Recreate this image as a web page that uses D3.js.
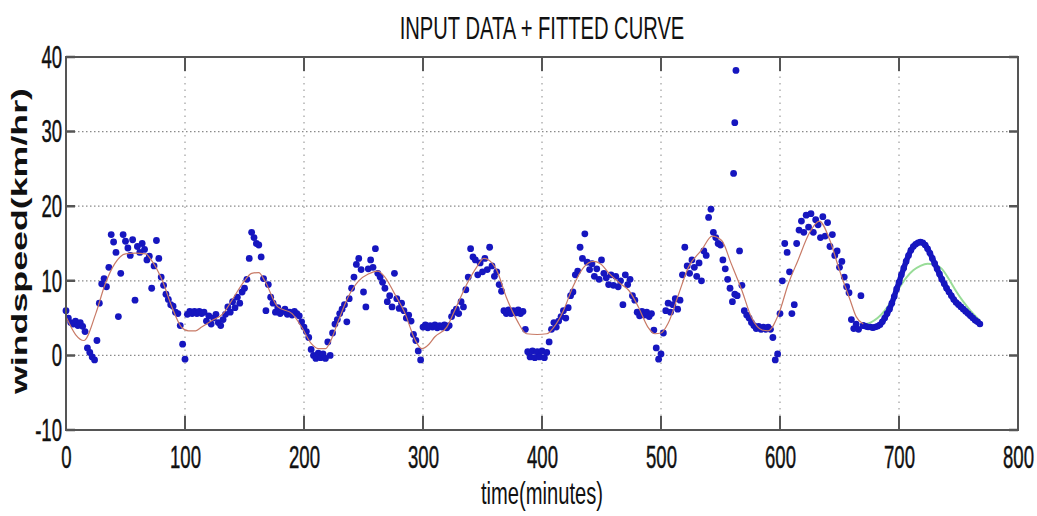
<!DOCTYPE html>
<html>
<head>
<meta charset="utf-8">
<script src="https://cdn.jsdelivr.net/npm/d3@7"></script>
<style>
  html, body { margin: 0; padding: 0; background: #ffffff; }
  svg { display: block; font-family: "Liberation Sans", Arial, sans-serif; }
</style>
</head>
<body>
<svg id="chart" width="1037" height="516"></svg>
<script>
// ---- axis ticks ----
const xTickValues = [0, 100, 200, 300, 400, 500, 600, 700, 800];
const yTickValues = [-10, 0, 10, 20, 30, 40];

// ---- measured wind speed, one reading every 2 minutes (0 .. 670 min) ----
const speedMinutes = d3.range(0, 671, 2);
const windSpeed = [
  6.0, 5.0, 4.4, 4.2, 4.6, 4.0, 4.4, 3.9, 3.2, 1.0,
  0.4, -0.2, -0.6, 2.0, 7.0, 9.6, 10.3, 9.2, 11.8, 16.2,
  15.2, 13.8, 5.2, 11.0, 16.2, 15.3, 14.4, 13.4, 15.5, 7.4,
  14.6, 13.8, 15.0, 14.2, 12.8, 13.3, 9.0, 12.0, 15.4, 13.0,
  10.5, 9.4, 8.2, 7.5, 6.8, 6.6, 5.8, 5.6, 4.0, 1.5,
  -0.5, 5.5, 5.9, 5.6, 5.9, 5.6, 5.9, 5.6, 5.8, 4.6,
  5.3, 4.2, 5.0, 5.5, 4.4, 4.0, 4.8, 5.5, 6.5, 5.8,
  7.2, 6.4, 7.8, 7.0, 8.5, 9.0, 10.2, 13.0, 16.5, 15.8,
  15.0, 14.8, 13.2, 10.3, 6.0, 9.5, 7.8, 7.0, 5.8, 6.4,
  5.6, 5.9, 6.2, 5.5, 5.8, 5.4, 5.9, 5.6, 5.3, 4.5,
  3.8, 3.2, 2.4, 0.8, 0.0, -0.4, 0.3, -0.3, 0.2, -0.4,
  1.8, 0.0, 3.0, 4.2, 4.8, 5.6, 6.2, 6.8, 4.5, 7.6,
  9.0, 10.5, 12.2, 13.0, 11.5, 8.5, 6.5, 11.6, 12.8, 11.8,
  14.3, 11.0, 10.5, 9.8, 9.0, 7.2, 8.0, 6.5, 11.0, 7.6,
  6.3, 7.0, 6.0, 5.0, 5.4, 4.6, 2.8, 2.0, 0.6, -0.6,
  3.8, 4.1, 3.7, 4.0, 3.8, 4.1, 3.7, 4.0, 3.8, 4.1,
  3.7, 4.0, 5.2, 5.8, 6.2, 5.6, 7.2, 6.5, 8.8, 10.5,
  14.3, 13.2, 12.8, 10.8, 12.4, 11.2, 13.0, 11.5, 14.5, 12.0,
  10.6, 11.2, 9.5, 8.6, 6.0, 5.6, 6.1, 5.6, 6.0, 5.7,
  6.1, 5.6, 5.9, 3.5, 0.5, -0.2, 0.6, -0.3, 0.5, -0.2,
  0.6, -0.3, 0.4, 1.8, 3.5, 4.4, 3.8, 4.6, 5.2, 6.0,
  5.0, 6.4, 8.0, 8.5, 10.8, 11.3, 14.5, 13.0, 16.3, 12.5,
  11.5, 12.3, 10.6, 11.6, 10.2, 12.8, 11.0, 10.4, 9.5, 10.8,
  9.4, 10.6, 9.2, 10.0, 6.8, 10.8, 9.5, 10.2, 8.0, 7.4,
  5.8, 5.3, 5.9, 5.4, 5.8, 5.2, 5.6, 3.4, 1.0, -0.5,
  0.2, 3.0, 6.0, 7.0, 5.8, 6.8, 7.6, 6.2, 7.4, 10.8,
  14.5, 12.0, 11.0, 12.8, 11.8, 10.6, 12.4, 10.0, 14.0, 13.4,
  18.5, 19.6, 16.5, 15.8, 15.0, 14.8, 12.8, 11.6, 10.2, 9.0,
  7.2, 8.2, 8.0, 14.0, 9.4, 6.0, 5.4, 5.0, 4.4, 4.0,
  3.6, 3.9, 3.5, 3.8, 3.5, 3.8, 3.5, 2.4, -0.6, 0.2,
  5.6, 10.0, 15.0, 13.8, 11.2, 5.6, 6.8, 15.0, 16.8, 18.0,
  16.5, 18.8, 17.2, 19.0, 16.5, 18.2, 17.5, 15.8, 18.6, 16.0,
  17.8, 14.6, 16.2, 13.4, 14.0, 11.8, 12.6, 10.5, 9.2, 8.4,
  4.8, 3.6, 4.2, 3.5, 8.0, 4.0
];

// isolated gust readings
const gustMinutes = [561, 562, 563];
const gustSpeed = [24.4, 31.2, 38.2];

// ---- fitted curve over the measured period ----
const fitMinutes = [0, 8, 15, 25, 33, 41, 50, 58, 67, 72, 81, 89, 97, 103, 109, 114, 123, 132, 141, 150,
  156, 162, 167, 178, 190, 198, 206, 212, 218, 222, 229, 237, 246, 254, 262, 268, 276, 285, 293, 299,
  305, 310, 320, 328, 337, 345, 351, 356, 362, 370, 379, 387, 396, 404, 410, 418, 426, 435, 443, 449,
  457, 466, 473, 481, 489, 495, 500, 506, 515, 523, 534, 543, 551, 559, 568, 576, 585, 590, 599, 607,
  615, 625, 633, 642, 650, 659, 664, 670];
const fitSpeed = [5.2, 2.8, 2.0, 5.6, 9.6, 12.3, 13.6, 13.7, 13.6, 12.7, 10.0, 6.5, 3.8, 3.3, 3.3, 3.8, 4.7, 5.6, 7.8, 10.0,
  11.0, 11.1, 10.0, 6.5, 5.6, 3.8, 1.6, 0.9, 0.9, 1.8, 4.7, 7.8, 10.0, 10.9, 11.3, 10.5, 8.3, 5.6, 2.2, 0.9,
  1.5, 2.5, 3.8, 6.5, 9.6, 11.8, 13.0, 12.7, 11.4, 7.8, 4.7, 2.9, 2.8, 2.9, 3.8, 6.0, 9.2, 11.8, 12.6, 12.3,
  10.9, 9.6, 8.7, 6.5, 3.8, 2.9, 3.0, 4.3, 8.3, 11.8, 14.1, 16.0, 15.4, 12.3, 8.7, 5.1, 3.4, 3.3, 5.6, 9.6,
  12.7, 16.5, 18.0, 15.4, 11.4, 7.4, 5.2, 4.2];

// ---- predicted wind speed (670 .. 768 min) ----
const forecastMinutes = d3.range(670, 769, 2);
const forecastSpeed = [
  4.0, 3.9, 3.8, 3.8, 3.7, 3.8, 3.9, 4.1, 4.5, 5.0,
  5.6, 6.2, 7.0, 7.9, 8.9, 9.8, 10.8, 11.7, 12.6, 13.4,
  14.1, 14.6, 14.9, 15.1, 15.2, 15.1, 14.8, 14.3, 13.7, 13.0,
  12.3, 11.6, 10.9, 10.2, 9.6, 9.0, 8.5, 8.0, 7.5, 7.1,
  6.8, 6.5, 6.2, 5.9, 5.6, 5.3, 5.0, 4.7, 4.5, 4.2
];

// ---- fitted model over the prediction window ----
const modelMinutes = [672, 676, 682, 688, 694, 700, 706, 712, 718, 724, 730, 736, 742, 748, 754, 760, 766, 768];
const modelSpeed = [4.2, 4.4, 5.0, 6.0, 7.4, 9.0, 10.4, 11.4, 12.0, 12.3, 12.2, 11.6, 10.2, 8.6, 7.2, 6.0, 5.0, 4.7];

// ---------------------------------------------------------------
const SQ = 0.58;           // horizontal compression of the lettering
const DOT = "#1616bf";
const svg = d3.select("#chart");
const x = d3.scaleLinear().domain([0, 800]).range([66, 1018]);
const y = d3.scaleLinear().domain([-10, 40]).range([430, 57]);
const [x0, x1] = x.range();
const [y0, y1] = y.range();

// grid
const grid = svg.append("g");
grid.selectAll("line.vx")
  .data(xTickValues.filter(d => d > 0 && d < 800))
  .join("line")
  .attr("x1", d => x(d)).attr("x2", d => x(d))
  .attr("y1", y1).attr("y2", y0)
  .attr("stroke", "#8a8a8a").attr("stroke-width", 1)
  .attr("stroke-dasharray", "1.5,5");
grid.selectAll("line.hy")
  .data(yTickValues.filter(d => d > -10 && d < 40))
  .join("line")
  .attr("x1", x0).attr("x2", x1)
  .attr("y1", d => y(d)).attr("y2", d => y(d))
  .attr("stroke", "#8a8a8a").attr("stroke-width", 1.3)
  .attr("stroke-dasharray", "1.5,2.5");

// data layers
const plot = svg.append("g");
const lineGen = d3.line().x(d => x(d[0])).y(d => y(d[1])).curve(d3.curveMonotoneX);

plot.append("path")
  .datum(modelMinutes.map((t, i) => [t, modelSpeed[i]]))
  .attr("d", lineGen)
  .attr("fill", "none").attr("stroke", "#98dc98").attr("stroke-width", 2);

const measured = speedMinutes.map((t, i) => [t, windSpeed[i]])
  .concat(gustMinutes.map((t, i) => [t, gustSpeed[i]]));
plot.selectAll("circle.obs")
  .data(measured)
  .join("circle")
  .attr("cx", d => x(d[0])).attr("cy", d => y(d[1]))
  .attr("r", 3.4).attr("fill", DOT);

const forecast = forecastMinutes.map((t, i) => [t, forecastSpeed[i]]);
plot.append("path")
  .datum(forecast)
  .attr("d", lineGen)
  .attr("fill", "none").attr("stroke", DOT).attr("stroke-width", 5.5)
  .attr("stroke-linecap", "round");
plot.selectAll("circle.fc")
  .data(forecast)
  .join("circle")
  .attr("cx", d => x(d[0])).attr("cy", d => y(d[1]))
  .attr("r", 3.3).attr("fill", DOT);

plot.append("path")
  .datum(fitMinutes.map((t, i) => [t, fitSpeed[i]]))
  .attr("d", lineGen)
  .attr("fill", "none").attr("stroke", "#c87a66").attr("stroke-width", 1.2);

// frame and inward ticks
const frame = svg.append("g").attr("stroke", "#555").attr("fill", "none");
frame.append("rect")
  .attr("x", x0).attr("y", y1).attr("width", x1 - x0).attr("height", y0 - y1)
  .attr("stroke-width", 2);
frame.selectAll("path.xt")
  .data(xTickValues)
  .join("path")
  .attr("d", d => `M${x(d)},${y0}v-14M${x(d)},${y1}v14`)
  .attr("stroke-width", 2);
frame.selectAll("path.yt")
  .data(yTickValues)
  .join("path")
  .attr("d", d => `M${x0},${y(d)}h9M${x1},${y(d)}h-9`)
  .attr("stroke-width", 2.5);

// tick labels through d3 axes
const xAxis = svg.append("g")
  .attr("transform", `translate(0,${y0})`)
  .call(d3.axisBottom(x).tickValues(xTickValues).tickSize(0).tickPadding(15).tickFormat(d => String(d)));
const yAxis = svg.append("g")
  .attr("transform", `translate(${x0},0)`)
  .call(d3.axisLeft(y).tickValues(yTickValues).tickSize(0).tickPadding(4).tickFormat(d => String(d)));
[xAxis, yAxis].forEach(g => {
  g.select(".domain").remove();
  g.selectAll("text")
    .attr("font-family", "'Liberation Sans', Arial, sans-serif")
    .attr("font-size", 32)
    .attr("fill", "#111")
    .attr("stroke", "#111").attr("stroke-width", 0.5);
});
xAxis.selectAll("text").attr("transform", `scale(${SQ},1)`);
yAxis.selectAll("text").attr("x", -4 / SQ).attr("transform", `scale(${SQ},1)`);

// titles
svg.append("text")
  .attr("transform", `translate(${(x0 + x1) / 2},39) scale(0.63,1)`)
  .attr("text-anchor", "middle").attr("font-size", 32).attr("fill", "#111")
  .text("INPUT DATA + FITTED CURVE");
svg.append("text")
  .attr("transform", `translate(${(x0 + x1) / 2},504) scale(0.63,1)`)
  .attr("text-anchor", "middle").attr("font-size", 32).attr("fill", "#111")
  .text("time(minutes)");
svg.append("text")
  .attr("transform", `translate(27,241) scale(${SQ},1) rotate(-90)`)
  .attr("text-anchor", "middle").attr("font-size", 37).attr("font-weight", "bold")
  .attr("textLength", 306).attr("lengthAdjust", "spacingAndGlyphs").attr("fill", "#111")
  .text("windspeed(km/hr)");
</script>
</body>
</html>
